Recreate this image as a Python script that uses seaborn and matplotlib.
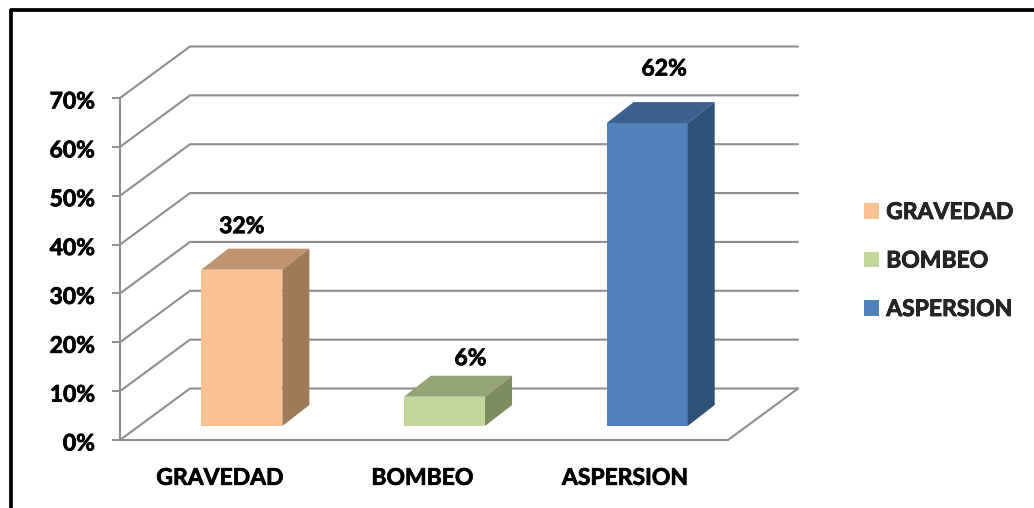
import matplotlib
matplotlib.use("Agg")
import matplotlib.pyplot as plt
import matplotlib.patheffects as pe
from matplotlib.lines import Line2D
from matplotlib.patches import Polygon
from matplotlib.ticker import PercentFormatter
from matplotlib.transforms import ScaledTranslation
import seaborn as sns
import pandas as pd

categories = ["GRAVEDAD", "BOMBEO", "ASPERSION"]
shares = [0.32, 0.06, 0.62]
front_colors = ["#FAC090", "#C3D69B", "#4F81BD"]
top_colors = ["#BF936E", "#95A476", "#3C6090"]
side_colors = ["#9E7A58", "#7E8C62", "#2F5178"]
y_ticks = [0, .1, .2, .3, .4, .5, .6, .7]
# Hand placement of each value label relative to its bar top, in pixels
label_nudges = [(0, 43), (26, 38), (17, 54)]

W, H = 1034, 508
GRID = "#8E8E8E"
FONT = "Lato"
WEIGHT = "bold"
FS = 16.5
HEAVY = [pe.withStroke(linewidth=0.55, foreground="black")]

sns.set_theme(style="white", rc={"font.family": FONT, "font.weight": WEIGHT})
fig = plt.figure(figsize=(W / 100, H / 100), dpi=100, facecolor="white")


def px_axes(left, top, right, bottom):
    return fig.add_axes([left / W, 1 - bottom / H, (right - left) / W, (bottom - top) / H])


def nudge_label(label, dx_px, dy_px):
    shift = ScaledTranslation(dx_px / 100, dy_px / 100, fig.dpi_scale_trans)
    label.set_transform(label.get_transform() + shift)


# Outer border, open on the right and at the bottom
for xs, ys in [([11, 11], [8.5, 508]), ([9.5, 1034], [10, 10])]:
    fig.add_artist(Line2D([x / W for x in xs], [1 - y / H for y in ys],
                          color="black", lw=2.7, solid_capstyle="butt"))

# Front plane of the chart box: carries the axes, ticks and labels
frame = px_axes(120, 98, 728, 440)
frame.set_xlim(-0.5, 2.5)
frame.set_ylim(0, 0.7)
frame.patch.set_alpha(0)
for name in ["top", "right"]:
    frame.spines[name].set_visible(False)
for name in ["left", "bottom"]:
    frame.spines[name].set_color(GRID)
    frame.spines[name].set_linewidth(1.5)
frame.set_xticks(range(3), categories)
frame.set_xticks([-0.5, 0.5, 1.5, 2.5], minor=True)
frame.set_yticks(y_ticks)
frame.yaxis.set_major_formatter(PercentFormatter(1, decimals=0))
frame.tick_params(axis="x", which="major", length=0, pad=20, labelsize=FS)
frame.tick_params(axis="x", which="minor", length=6, width=1.4, color=GRID)
frame.tick_params(axis="y", length=6, width=1.4, color=GRID, pad=12, labelsize=FS, left=True)
for lab in frame.get_xticklabels():
    lab.set_color("black")
    lab.set_path_effects(HEAVY)
    nudge_label(lab, -1.5, 0)
for lab in frame.get_yticklabels():
    lab.set_color("black")
    lab.set_path_effects(HEAVY)
    nudge_label(lab, 0, -2)

# Receding floor and back wall, with one gridline per tick
wall_dx = 70 / 608 * 3
wall_dy = 51.5 / 342 * 0.7
for v in y_ticks:
    frame.plot([-0.5, -0.5 + wall_dx, 2.5 + wall_dx], [v, v + wall_dy, v + wall_dy],
               color=GRID, lw=1.5, clip_on=False, zorder=1, solid_joinstyle="miter")
frame.plot([2.5, 2.5 + wall_dx], [0, wall_dy], color=GRID, lw=1.5, clip_on=False, zorder=1)

# Bars stand on a plane set back from the front of the floor
bars_ax = px_axes(120 + 20.5, 98 - 14, 728 + 20.5, 440 - 14)
bars_ax.patch.set_alpha(0)
table = pd.DataFrame({"system": categories, "share": shares})
sns.barplot(data=table, x="system", y="share", hue="system", hue_order=categories,
            order=categories, palette=front_colors, width=0.4, dodge=False, ax=bars_ax,
            legend=True, linewidth=0, saturation=1, zorder=3)
bars_ax.set_xlim(-0.5, 2.5)
bars_ax.set_ylim(0, 0.7)
bars_ax.axis("off")

depth_x = 27 / 608 * 3
depth_y = 21 / 342 * 0.7
for bar, value, top_c, side_c, nudge in zip(bars_ax.patches, shares, top_colors, side_colors, label_nudges):
    x0, x1 = bar.get_x(), bar.get_x() + bar.get_width()
    h = bar.get_height()
    bars_ax.add_patch(Polygon([(x0, h), (x1, h), (x1 + depth_x, h + depth_y), (x0 + depth_x, h + depth_y)],
                              closed=True, fc=top_c, ec="none", clip_on=False, zorder=3))
    bars_ax.add_patch(Polygon([(x1, 0), (x1 + depth_x, depth_y), (x1 + depth_x, h + depth_y), (x1, h)],
                              closed=True, fc=side_c, ec="none", clip_on=False, zorder=3))
    bars_ax.annotate(f"{value:.0%}", ((x0 + x1) / 2, h),
                     xytext=(nudge[0] * 0.72, nudge[1] * 0.72), textcoords="offset points",
                     ha="center", va="center", fontsize=FS, fontweight=WEIGHT, color="black",
                     annotation_clip=False, path_effects=HEAVY)

sns.move_legend(bars_ax, "center left", bbox_to_anchor=(863.5 / W, 1 - 261 / H),
                bbox_transform=fig.transFigure, frameon=False, title=None,
                handlelength=0.66, handleheight=0.66, handletextpad=0.33,
                labelspacing=1.2, borderpad=0, borderaxespad=0,
                prop={"size": FS, "weight": WEIGHT, "family": FONT})
for txt in bars_ax.get_legend().get_texts():
    txt.set_path_effects(HEAVY)

fig.savefig("out.png", dpi=100, facecolor="white")
